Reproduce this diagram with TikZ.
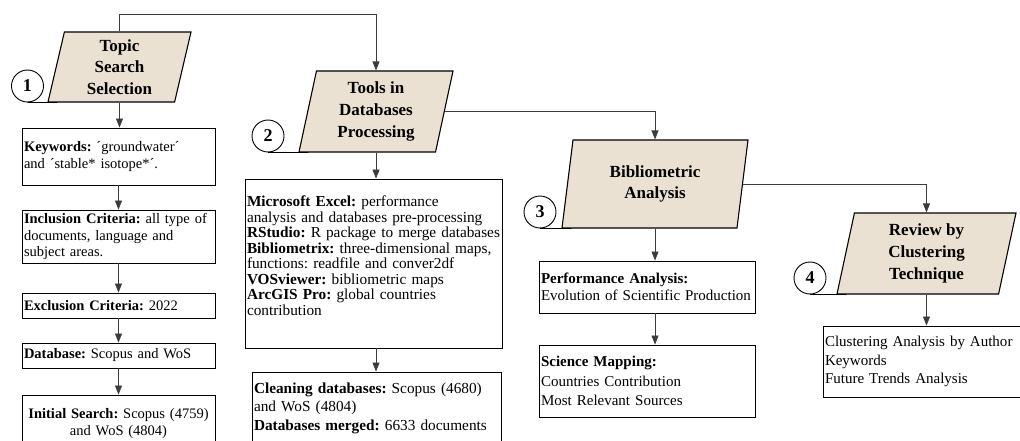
\documentclass[tikz,border=0pt]{standalone}
\usepackage{fontspec}
\setmainfont{Liberation Serif}
\usepackage{tikz}
\usetikzlibrary{shapes.geometric}
\usetikzlibrary{arrows.meta}
\usetikzlibrary{calc}
\definecolor{sand}{RGB}{235,225,210}
\definecolor{wire}{RGB}{60,60,60}
\frenchspacing

\begin{document}
\begin{tikzpicture}[x=1pt,y=-1pt,
	stage/.style={trapezium,trapezium left angle=73.5,trapezium right angle=106.5,
		trapezium stretches body,draw=black,line width=1.1pt,fill=sand,align=center,
		inner sep=0pt,font=\fontsize{17}{21.7}\selectfont\bfseries},
	num/.style={circle,draw=black,line width=0.9pt,minimum size=32pt,inner sep=0pt,
		font=\fontsize{18}{18}\selectfont\bfseries},
	info/.style={draw=black,line width=0.9pt,align=left,inner xsep=2pt,inner ysep=0pt,
		font=\fontsize{14.5}{16.2}\selectfont},
	flow/.style={draw=wire,line width=0.7pt,-{Triangle[length=9pt,width=7pt]}}]
	\useasboundingbox (0,0) rectangle (1020,441);

	% the four stages
	\node [stage,minimum width=143pt,minimum height=70pt] (T1) at (119.5,67) {Topic\\Search\\Selection};
	\node [stage,minimum width=154pt,minimum height=81pt] (T2) at (376,111.5) {Tools in\\Databases\\Processing};
	\node [stage,minimum width=186pt,minimum height=88pt] (T3) at (655,184) {Bibliometric\\Analysis};
	\node [stage,minimum width=179pt,minimum height=81pt] (T4) at (926.5,253.5) {Review by\\Clustering\\Technique};

	\node [num] (C1) at (27.5,86) {1};
	\node [num] (C2) at (268,136) {2};
	\node [num] (C3) at (540,212) {3};
	\node [num] (C4) at (810,278) {4};
	\foreach \i in {1,...,4}
		\draw [line width=0.9pt] (C\i.south) -- ($(T\i.bottom left corner)+(10,0)$);

	% step 1
	\node [info,text width=189pt,minimum height=57pt] (K1) at (118.5,156.5) {\textbf{Keywords:} ´groundwater´\\and ´stable* isotope*´.};
	\node [info,text width=189pt,minimum height=53pt] (K2) at (118.5,236.5) {\textbf{Inclusion Criteria:} all type of\\documents, language and\\subject areas.};
	\node [info,text width=189pt,minimum height=25pt] (K3) at (118.5,305.5) {\textbf{Exclusion Criteria:} 2022};
	\node [info,text width=189pt,minimum height=25pt] (K4) at (118.5,355.5) {\textbf{Database:} Scopus and WoS};
	\node [info,text width=189pt,minimum height=57pt,align=center] (K5) at (118.5,423.5) {\textbf{Initial Search:} Scopus (4759)\\and WoS (4804)};

	% step 2
	\node [info,text width=253pt,minimum height=169pt,font=\fontsize{15.3}{15.5}\selectfont] (D1) at (373.5,263.5) {\textbf{Microsoft Excel:} performance\\analysis and databases pre-processing\\\textbf{RStudio:} R package to merge databases\\\textbf{Bibliometrix:} three-dimensional maps,\\functions: readfile and conver2df\\\textbf{VOSviewer:} bibliometric maps\\\textbf{ArcGIS Pro:} global countries\\contribution\\\mbox{}};
	\node [info,text width=245pt,minimum height=72pt,font=\fontsize{15.3}{18.5}\selectfont] (D2) at (376.5,408) {\textbf{Cleaning databases:} Scopus (4680)\\and WoS (4804)\\\textbf{Databases merged:} 6633 documents};

	% step 3
	\node [info,text width=212pt,minimum height=52pt,font=\fontsize{15}{16.7}\selectfont] (A1) at (647,287) {\textbf{Performance Analysis:}\\Evolution of Scientific Production};
	\node [info,text width=212pt,minimum height=72pt,font=\fontsize{15}{19.2}\selectfont] (A2) at (647,381) {\textbf{Science Mapping:}\\Countries Contribution\\Most Relevant Sources};

	% step 4
	\node [info,text width=193pt,minimum height=71pt,font=\fontsize{15}{18.7}\selectfont] (R1) at (921.5,361.5) {Clustering Analysis by Author\\Keywords\\Future Trends Analysis};

	% connectors
	\draw [flow] (T1.north) -- ++(0,-17) -| (T2.north);
	\draw [flow] (T2.east) -| (T3.north);
	\draw [flow] (T3.east) -| (T4.north);

	\draw [flow] (T1.south) -- (T1.south |- K1.north);
	\foreach \a/\b in {K1/K2,K2/K3,K3/K4,K4/K5}
		\draw [flow] (\a.south) -- (\b.north);

	\draw [flow] (T2.south) -- (T2.south |- D1.north);
	\draw [flow] (T2.south |- D1.south) -- (T2.south |- D2.north);

	\draw [flow] (T3.south) -- (T3.south |- A1.north);
	\draw [flow] (T3.south |- A1.south) -- (T3.south |- A2.north);

	\draw [flow] (T4.south) -- (T4.south |- R1.north);
\end{tikzpicture}
\end{document}
